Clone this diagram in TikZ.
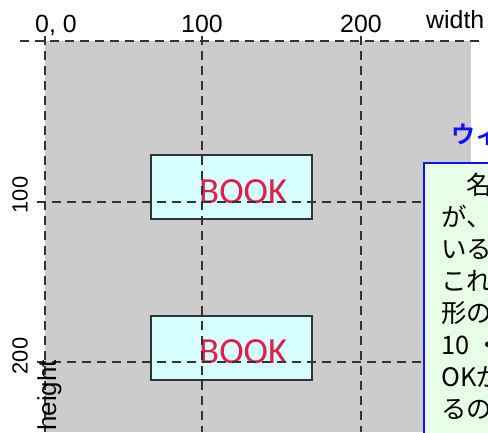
\documentclass[tikz,border=0pt]{standalone}
\usepackage{fontspec}
\setmainfont{Liberation Sans}
\newfontfamily\bookfont{Carlito}
\newfontfamily\jpfont{Noto Sans CJK JP}
\newfontfamily\jpbold{Noto Sans CJK JP Bold}
\definecolor{bggray}{HTML}{CCCCCC}
\definecolor{bookfill}{HTML}{D6FFFF}
\definecolor{bookred}{HTML}{E0204A}
\definecolor{notefill}{HTML}{E6FFE6}
\definecolor{noteblue}{HTML}{1010FF}
\definecolor{guide}{HTML}{333333}
\tikzset{
  guideline/.style={draw=guide, line width=1.1bp, dash pattern=on 9bp off 6bp},
  bookbox/.style={draw=black!80, line width=1.4bp, fill=bookfill},
  booktext/.style={text=bookred, font=\bookfont\fontsize{37}{40}\selectfont, inner sep=0pt, anchor=base west},
  axislabel/.style={font=\fontsize{25}{28}\selectfont, inner sep=0pt},
  sidelabel/.style={font=\fontsize{22}{25}\selectfont, inner sep=0pt, rotate=90},
  notetext/.style={font=\jpfont\fontsize{25.5}{28}\selectfont, inner sep=0pt, anchor=base west},
}
\begin{document}
\begin{tikzpicture}[x=1bp,y=-1bp]
\useasboundingbox (0,0) rectangle (488,432);
\clip (0,0) rectangle (488,432);
\fill[white] (0,0) rectangle (488,432);
% canvas
\fill[bggray] (45,41) rectangle (471,432);
% books
\draw[bookbox] (151,155) rectangle (312,219);
\draw[bookbox] (151,316) rectangle (312,380);
\node[booktext] (book1) at (199,203) {BOOK};
\node[booktext] (book2) at (199,363) {BOOK};
% guides
\draw[guideline] (20,41) -- (480,41);
\draw[guideline] (37,202) -- (480,202);
\draw[guideline] (37,362) -- (480,362);
\draw[guideline] (45,36) -- (45,432);
\draw[guideline] (202,36) -- (202,432);
\draw[guideline] (361,36) -- (361,432);
% labels
\node[axislabel, anchor=base west] (l00) at (35,32) {0, 0};
\node[axislabel, anchor=base] (l100) at (202,32) {100};
\node[axislabel, anchor=base] (l200) at (361,32) {200};
\node[axislabel, anchor=base west] (lw) at (426,28) {width};
\node[sidelabel] (ly100) at (20,195) {100};
\node[sidelabel] (ly200) at (20,356) {200};
\node[axislabel, rotate=90, anchor=base east, font=\fontsize{26}{29}\selectfont] (lh) at (56,360) {height};
% note
\node[inner sep=0pt, anchor=base west, text=noteblue, font=\jpbold\fontsize{24}{27}\selectfont] (ntitle) at (451,143) {ウィ};
\draw[draw=noteblue, line width=2bp, fill=notefill] (424,163) rectangle (500,440);
\foreach \t [count=\i] in {{　名},{が、},{いる},{これ},{形の},{10 ・},{OKが},{るの}}{
  \node[notetext] (n\i) at (441,{194+32*(\i-1)}) {\t};
}
\end{tikzpicture}
\end{document}
